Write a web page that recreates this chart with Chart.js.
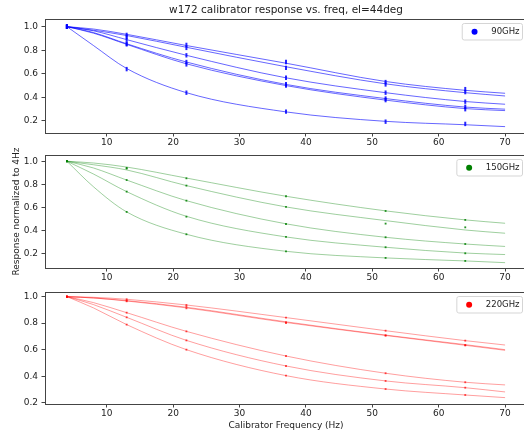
<!DOCTYPE html>
<html>
<head>
<meta charset="utf-8">
<script src="https://cdn.jsdelivr.net/npm/chart.js@4/dist/chart.umd.min.js"></script>
<style>
html, body { margin: 0; padding: 0; background: #fff; width: 524px; height: 434px; overflow: hidden; position: relative; }
canvas { position: absolute; left: 0; }
</style>
</head>
<body>
<canvas id="chart90" width="572" height="153" style="top:0px"></canvas>
<canvas id="chart150" width="572" height="148" style="top:140px"></canvas>
<canvas id="chart220" width="572" height="154" style="top:280px"></canvas>
<script>
const chartTitle = 'w172 calibrator response vs. freq, el=44deg';
const xLabel = 'Calibrator Frequency (Hz)';
const yLabel = 'Response normalized to 4Hz';

// measured calibrator frequencies and the frequencies the fitted curves are read at
const measFreq = [4, 13, 22, 37, 52, 64];
const fitFreq = [4, 8, 13, 22, 37, 52, 64, 70];
const xTicks = [10, 20, 30, 40, 50, 60, 70];
const yTicks = [0.2, 0.4, 0.6, 0.8, 1.0];

const meas90 = [
    [1.0, 0.93, 0.845, 0.70, 0.53, 0.47],
    [1.0, 0.915, 0.82, 0.65, 0.51, 0.445],
    [1.0, 0.89, 0.757, 0.567, 0.44, 0.364],
    [1.0, 0.855, 0.70, 0.511, 0.39, 0.32],
    [1.0, 0.85, 0.68, 0.50, 0.377, 0.30],
    [1.0, 0.64, 0.44, 0.279, 0.194, 0.175]
];
const fit90 = [
    [1.0, 0.98, 0.935, 0.84, 0.69, 0.535, 0.46, 0.435],
    [1.0, 0.97, 0.925, 0.825, 0.66, 0.515, 0.44, 0.412],
    [1.0, 0.965, 0.89, 0.757, 0.566, 0.44, 0.365, 0.342],
    [1.0, 0.95, 0.855, 0.70, 0.51, 0.39, 0.318, 0.30],
    [1.0, 0.945, 0.85, 0.685, 0.50, 0.377, 0.305, 0.288],
    [1.0, 0.84, 0.645, 0.44, 0.277, 0.197, 0.168, 0.152]
];

const meas150 = [
    [1.0, 0.943, 0.853, 0.698, 0.571, 0.494],
    [1.0, 0.937, 0.79, 0.606, 0.462, 0.43],
    [1.0, 0.838, 0.66, 0.459, 0.344, 0.286],
    [1.0, 0.738, 0.522, 0.347, 0.258, 0.206],
    [1.0, 0.563, 0.37, 0.223, 0.166, 0.14]
];
const fit150 = [
    [1.0, 0.985, 0.95, 0.855, 0.698, 0.572, 0.494, 0.465],
    [1.0, 0.97, 0.925, 0.79, 0.606, 0.488, 0.407, 0.379],
    [1.0, 0.942, 0.838, 0.66, 0.46, 0.344, 0.286, 0.265],
    [1.0, 0.89, 0.738, 0.525, 0.347, 0.258, 0.208, 0.195],
    [1.0, 0.78, 0.563, 0.37, 0.223, 0.166, 0.14, 0.125]
];

const meas220 = [
    [1.0, 0.98, 0.937, 0.842, 0.743, 0.668],
    [1.0, 0.97, 0.925, 0.807, 0.709, 0.635],
    [1.0, 0.965, 0.912, 0.80, 0.705, 0.632],
    [1.0, 0.879, 0.738, 0.552, 0.422, 0.354],
    [1.0, 0.844, 0.67, 0.477, 0.364, 0.313],
    [1.0, 0.789, 0.60, 0.404, 0.303, 0.258]
];
const fit220 = [
    [1.0, 0.995, 0.98, 0.937, 0.842, 0.743, 0.668, 0.635],
    [1.0, 0.99, 0.97, 0.92, 0.81, 0.71, 0.638, 0.60],
    [1.0, 0.99, 0.967, 0.915, 0.805, 0.707, 0.633, 0.595],
    [1.0, 0.955, 0.879, 0.738, 0.552, 0.422, 0.354, 0.334],
    [1.0, 0.94, 0.844, 0.67, 0.477, 0.364, 0.313, 0.281],
    [1.0, 0.915, 0.789, 0.60, 0.404, 0.303, 0.258, 0.238]
];

const FONT = '"DejaVu Sans", Verdana, sans-serif';
const TXT = '#222';
const SPINE = '#444';

// axes frame (all four spines like matplotlib)
const frame = {
    id: 'frame',
    afterDatasetsDraw(chart) {
        const a = chart.chartArea;
        const ctx = chart.ctx;
        ctx.save();
        ctx.strokeStyle = SPINE;
        ctx.lineWidth = 1;
        ctx.strokeRect(Math.round(a.left) + 0.5, Math.round(a.top) + 0.5,
            Math.round(a.right - a.left), Math.round(a.bottom - a.top));
        ctx.restore();
    }
};

// boxed legend in the upper right of the axes
const boxLegend = {
    id: 'boxLegend',
    afterDraw(chart, args, opts) {
        const a = chart.chartArea;
        const ctx = chart.ctx;
        ctx.save();
        ctx.font = '8.5px ' + FONT;
        const tw = ctx.measureText(opts.text).width;
        const right = a.right - 5;
        const top = a.top + 4;
        const h = 16.5;
        const textLeft = right - 2.5 - tw;
        const left = textLeft - 29.5;
        ctx.fillStyle = 'rgba(255,255,255,0.8)';
        ctx.strokeStyle = '#d5d5d5';
        ctx.lineWidth = 1;
        ctx.beginPath();
        ctx.roundRect(left + 0.5, top + 0.5, right - left, h, 2);
        ctx.fill();
        ctx.stroke();
        ctx.fillStyle = opts.color;
        ctx.beginPath();
        ctx.arc(textLeft - 16.7, top + h / 2 + 0.5, 3, 0, Math.PI * 2);
        ctx.fill();
        ctx.fillStyle = TXT;
        ctx.textBaseline = 'middle';
        ctx.fillText(opts.text, textLeft, top + h / 2 + 0.5);
        ctx.restore();
    }
};

function buildDatasets(fit, meas, lineColor, markColor, markStyle) {
    const sets = [];
    fit.forEach(curve => {
        sets.push({
            data: fitFreq.map((f, j) => ({ x: f, y: curve[j] })),
            showLine: true,
            borderColor: lineColor,
            borderWidth: 1,
            pointRadius: 0,
            cubicInterpolationMode: 'monotone'
        });
    });
    meas.forEach(vals => {
        sets.push(Object.assign({
            data: measFreq.map((f, j) => ({ x: f, y: vals[j] })),
            showLine: false
        }, markStyle(markColor)));
    });
    return sets;
}

const errBar = c => ({ pointStyle: 'line', rotation: 90, pointRadius: 2.2, borderWidth: 2, borderColor: c, backgroundColor: c });
const dot = c => ({ pointStyle: 'rect', pointRadius: 1.3, borderWidth: 0, backgroundColor: c, borderColor: c });

function makeChart(id, opt) {
    var config = {
        type: 'scatter',
        data: { datasets: opt.datasets },
        options: {
            responsive: false,
            animation: false,
            events: [],
            layout: { padding: { top: opt.padTop, right: 45, left: 0, bottom: 0 } },
            plugins: {
                legend: { display: false },
                tooltip: { enabled: false },
                title: opt.title ? {
                    display: true,
                    fullSize: false,
                    text: opt.title,
                    color: TXT,
                    font: { family: FONT, size: 10.5, weight: 'normal' },
                    padding: { top: 4, bottom: 2.4 }
                } : { display: false },
                boxLegend: { text: opt.legend, color: opt.legendColor }
            },
            scales: {
                x: {
                    type: 'linear',
                    min: 0.7,
                    max: 73.3,
                    afterBuildTicks: s => { s.ticks = xTicks.map(v => ({ value: v })); },
                    afterFit: s => { s.height = opt.xHeight; },
                    grid: { drawOnChartArea: false, drawTicks: true, tickLength: 3.5, color: SPINE },
                    border: { display: false },
                    ticks: { color: TXT, font: { family: FONT, size: 9 }, padding: 1, maxRotation: 0 },
                    title: opt.xTitle ? {
                        display: true,
                        text: opt.xTitle,
                        color: TXT,
                        font: { family: FONT, size: 9 },
                        padding: { top: 0, bottom: 2.9 }
                    } : { display: false }
                },
                y: {
                    min: opt.yMin,
                    max: opt.yMax,
                    afterBuildTicks: s => { s.ticks = yTicks.map(v => ({ value: v })); },
                    afterFit: s => { s.width = 45; },
                    grid: { drawOnChartArea: false, drawTicks: true, tickLength: 3.5, color: SPINE },
                    border: { display: false },
                    ticks: {
                        color: TXT,
                        font: { family: FONT, size: 9 },
                        padding: 3.5,
                        callback: v => v.toFixed(1)
                    },
                    title: opt.yTitle ? {
                        display: true,
                        text: opt.yTitle,
                        color: TXT,
                        font: { family: FONT, size: 9 },
                        padding: { top: 11.6, bottom: 0 }
                    } : { display: false }
                }
            }
        },
        plugins: [frame, boxLegend]
    };
    var ctx = document.getElementById(id).getContext('2d');
    return new Chart(ctx, config);
}

window.chart90 = makeChart('chart90', {
    datasets: buildDatasets(fit90, meas90, 'rgba(0,0,255,0.6)', 'rgba(0,0,255,0.85)', errBar),
    padTop: 0, xHeight: 20, yMin: 0.098, yMax: 1.065,
    title: chartTitle, legend: '90GHz', legendColor: '#0000ff'
});

window.chart150 = makeChart('chart150', {
    datasets: buildDatasets(fit150, meas150, 'rgba(0,128,0,0.38)', 'rgba(0,128,0,0.85)', dot),
    padTop: 15, xHeight: 20, yMin: 0.079, yMax: 1.054,
    yTitle: yLabel, legend: '150GHz', legendColor: '#008000'
});

window.chart220 = makeChart('chart220', {
    datasets: buildDatasets(fit220, meas220, 'rgba(255,0,0,0.38)', 'rgba(255,0,0,0.7)', dot),
    padTop: 12, xHeight: 30, yMin: 0.19, yMax: 1.035,
    xTitle: xLabel, legend: '220GHz', legendColor: '#ff0000'
});
</script>
</body>
</html>
